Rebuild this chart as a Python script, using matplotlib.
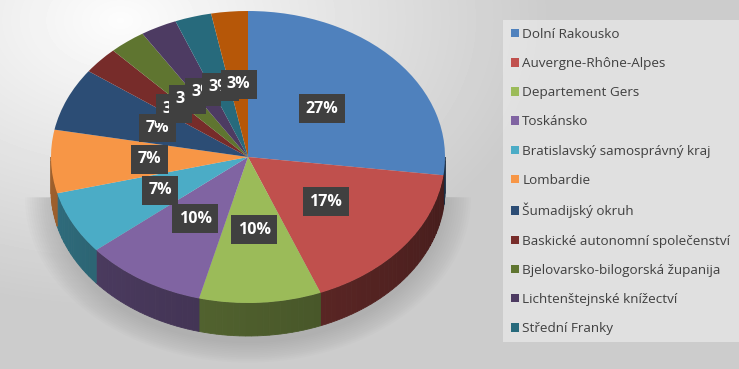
import numpy as np
import matplotlib
matplotlib.use('agg')
import matplotlib.pyplot as plt
from matplotlib.colors import to_rgb
from matplotlib.patches import Rectangle

# data
regions = ["Dolní Rakousko", "Auvergne-Rhône-Alpes", "Departement Gers", "Toskánsko",
           "Bratislavský samosprávný kraj", "Lombardie", "Šumadijský okruh",
           "Baskické autonomní společenství", "Bjelovarsko-bilogorská županija",
           "Lichtenštejnské knížectví", "Střední Franky", "Další"]
values = [27, 17, 10, 10, 7, 7, 7, 3, 3, 3, 3, 3]
colors = ["#4F81BD", "#C0504D", "#9BBB59", "#8064A2", "#4BACC6", "#F79646",
          "#2C4D75", "#772C2A", "#5F7530", "#4D3B62", "#276A7C", "#B65708"]

W, H = 739, 369
fig = plt.figure(figsize=(W / 100, H / 100), dpi=100)

# background gradient
bg = fig.add_axes([0, 0, 1, 1])
yy, xx = np.mgrid[0:H, 0:W]
d = np.sqrt(((xx - 120) / 450.0) ** 2 + ((yy - 20) / 300.0) ** 2)
shade = np.clip(0.99 - 0.2 * d, 0.8, 1.0)
bg.imshow(shade, cmap='gray', vmin=0, vmax=1, aspect='auto', extent=[0, W, H, 0])
bg.add_patch(Rectangle((503, 20), W - 503, 322, fc='white', alpha=0.4, ec='none'))
bg.set_xlim(0, W)
bg.set_ylim(H, 0)
bg.axis('off')

# pie axes: 1 unit = rx px across, ry px down
cx, cy, rx, ry = 248, 157, 197, 146
depth = 33 / ry
ax = fig.add_axes([0, 0, 1, 1])

# soft shadow under the pie
for k in range(12):
    s = 1.0 + 0.012 * k
    t = np.linspace(np.pi, 2 * np.pi, 100)
    ax.fill(np.cos(t) * s, np.sin(t) * s - depth - 0.05, color='#8a8a8a', alpha=0.035, lw=0)

# side wall (front half), darker toward the right
vals = np.array(values, dtype=float)
ends = 90 - 360 * np.cumsum(vals) / vals.sum()
starts = np.concatenate([[90], ends[:-1]])
for a0, a1, c in zip(starts, ends, colors):
    lo, hi = np.radians(a1), np.radians(a0)
    for off in (-2 * np.pi, 0, 2 * np.pi):
        l = max(lo + off, -np.pi)
        h = min(hi + off, 0)
        if h > l:
            edges = np.linspace(l, h, max(2, int((h - l) / 0.03) + 2))
            for e0, e1 in zip(edges[:-1], edges[1:]):
                t = np.linspace(e0, e1, 4)
                u = ((e0 + e1) / 2 + np.pi) / np.pi
                dark = tuple(np.array(to_rgb(c)) * (0.65 - 0.3 * u))
                px = np.concatenate([np.cos(t), np.cos(t[::-1])])
                py = np.concatenate([np.sin(t), np.sin(t[::-1]) - depth])
                ax.fill(px, py, fc=dark, ec=dark, lw=0.6)

wedges, _ = ax.pie(values, colors=colors, startangle=90, counterclock=False,
                   radius=1, center=(0, 0), frame=True,
                   wedgeprops=dict(linewidth=0))
ax.set_xlim(-cx / rx, (W - cx) / rx)
ax.set_ylim(-(H - cy) / ry, cy / ry)
ax.set_aspect('auto')
ax.axis('off')

# labels
mids = np.radians((starts + ends) / 2)
for m, v in zip(mids, values):
    ax.text(0.5 * np.cos(m), 0.5 * np.sin(m), f"{v}%", ha='center', va='center',
            color='white', fontsize=11.5, fontweight='bold', family='Open Sans',
            bbox=dict(boxstyle='square,pad=0.4', fc='#404040', ec='none'))

# legend
leg = ax.legend(wedges[:11], regions[:11], loc='upper left',
                bbox_to_anchor=(505.5 / W, 1 - 22.5 / H), bbox_transform=fig.transFigure,
                frameon=False,
                prop={'family': 'Open Sans', 'size': 9.7},
                handlelength=0.6, handleheight=0.6, handletextpad=0.25,
                labelspacing=1.2, borderpad=0.4, borderaxespad=0)
for t in leg.get_texts():
    t.set_color('#404040')

fig.savefig('out.png', dpi=100)
